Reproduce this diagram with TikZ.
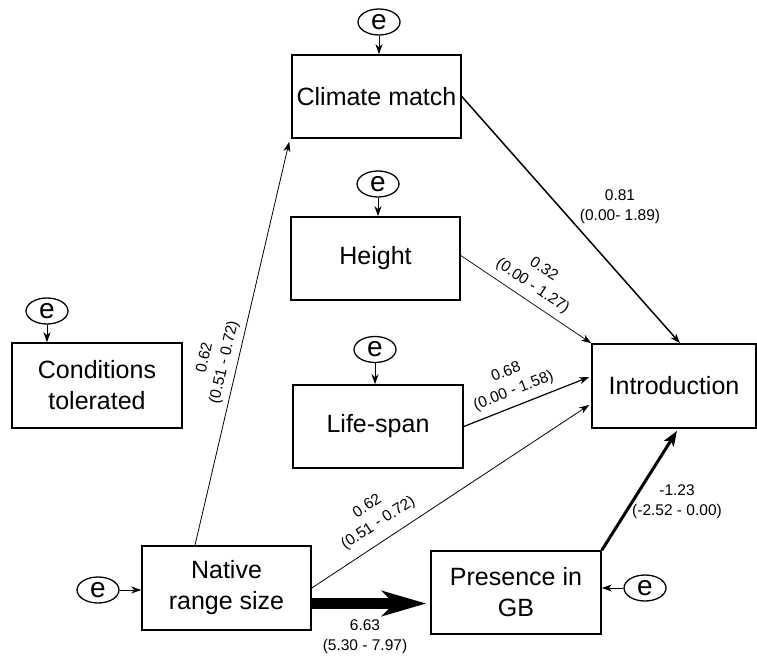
\documentclass[tikz,border=0pt]{standalone}
\usepackage{fontspec}
\setmainfont{Liberation Sans}
\usetikzlibrary{arrows.meta,shapes.geometric,calc}
\tikzset{
  box/.style={draw,line width=1.6pt,rectangle,align=center,inner sep=0pt,
    font=\fontsize{25}{31}\selectfont},
  err/.style={draw,line width=1.3pt,ellipse,inner sep=0pt,minimum width=42pt,
    minimum height=26pt,font=\fontsize{28}{28}\selectfont},
  tip/.style={-{Stealth[length=10pt,width=7pt,inset=3pt]}},
  coef/.style={align=center,inner sep=0pt,font=\fontsize{15.5}{20}\selectfont},
}
\begin{document}
\begin{tikzpicture}[x=1pt,y=-1pt]
\useasboundingbox (0,0) rectangle (757,661);
% boxes
\node[box,minimum width=169pt,minimum height=83pt] (clim) at (376.5,96.5) {Climate match};
\node[box,minimum width=169pt,minimum height=83pt] (height) at (375.5,258.5) {Height};
\node[box,minimum width=170pt,minimum height=83pt] (life) at (378,426.5) {Life-span};
\node[box,minimum width=170pt,minimum height=85pt] (cond) at (97,385.5) {Conditions\\tolerated};
\node[box,minimum width=169pt,minimum height=84pt] (native) at (226.5,588) {Native\\range size};
\node[box,minimum width=170pt,minimum height=83pt] (pres) at (516,592.5) {Presence in\\GB};
\node[box,minimum width=164pt,minimum height=84pt] (intro) at (674,386) {Introduction};
% error terms
\node[err] (eclim) at (379,22) {e};
\node[err] (eheight) at (378,184) {e};
\node[err] (elife) at (375,349.5) {e};
\node[err] (econd) at (47,311) {e};
\node[err] (enative) at (98,590) {e};
\node[err] (epres) at (645,588) {e};
\draw[tip,line width=1pt] (eclim.south) -- (eclim.south |- clim.north);
\draw[tip,line width=1pt] (eheight.south) -- (eheight.south |- height.north);
\draw[tip,line width=1pt] (elife.south) -- (elife.south |- life.north);
\draw[tip,line width=1pt] (econd.south) -- (econd.south |- cond.north);
\draw[tip,line width=1pt] (enative.east) -- (enative.east -| native.west);
\draw[tip,line width=1pt] (epres.west) -- (epres.west -| pres.east);
% paths
\draw[tip,line width=1.5pt] (clim.east) -- ($(intro.north)+(6,0)$);
\draw[tip,line width=0.7pt] ($(height.east)+(0,-3)$) -- (intro.north west);
\draw[tip,line width=1.2pt] (life.east) -- ($(intro.west)+(-2,-9)$);
\draw[tip,line width=0.8pt] (native.east) -- ($(intro.west)+(-2,19)$);
\draw[tip,line width=0.8pt] ($(native.north)+(-31.5,0)$) -- ($(clim.south west)+(-2,3)$);
\coordinate (bigy) at (0,603.5);
\draw[line width=11pt,-{Stealth[length=44pt,width=25pt,inset=12pt]}]
  (native.east |- bigy) -- ($(pres.west |- bigy)+(-4,0)$);
\draw[line width=3pt,-{Stealth[length=15pt,width=11pt,inset=3pt]}]
  (pres.north east) -- ($(intro.south)+(3,2)$);
% coefficients
\node[coef] (l1) at (620,207) {0.81\\(0.00- 1.89)};
\node[coef,rotate=-33.8] (l2) at (538,278) {0.32\\(0.00 - 1.27)};
\node[coef,rotate=21.5] (l3) at (510,382) {0.68\\(0.00 - 1.58)};
\node[coef,rotate=76.8] (l4) at (215,360) {0.62\\(0.51 - 0.72)};
\node[coef,rotate=33.1] (l5) at (373,515) {0.62\\(0.51 - 0.72)};
\node[coef] (l6) at (365,637) {6.63\\(5.30 - 7.97)};
\node[coef] (l7) at (677,502) {-1.23\\(-2.52 - 0.00)};
\end{tikzpicture}
\end{document}
